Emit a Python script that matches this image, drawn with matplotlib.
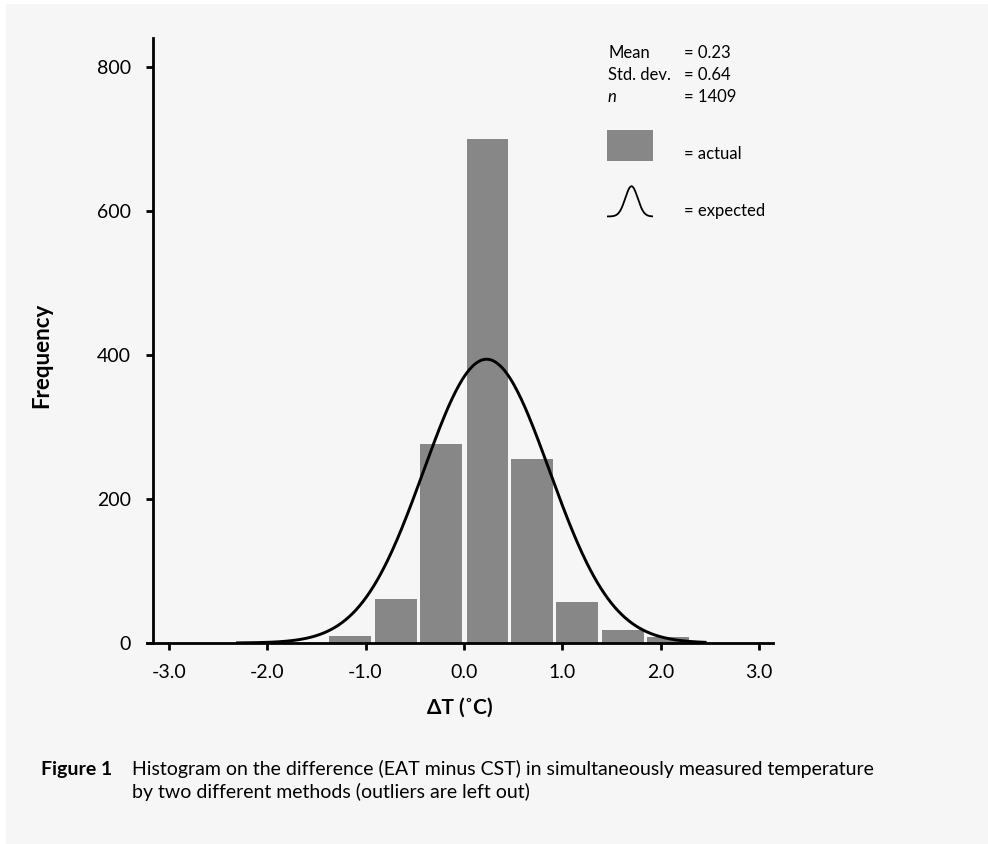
import numpy as np
import matplotlib
matplotlib.use("Agg")
import matplotlib.pyplot as plt
from matplotlib.patches import Rectangle

plt.rcParams['font.family'] = ['Lato', 'DejaVu Sans']

# histogram data
bin_centers = [-1.16, -0.69, -0.23, 0.24, 0.69, 1.15, 1.62, 2.07]
counts = [10, 61, 276, 700, 255, 57, 18, 9]
bar_width = 0.425

# stated statistics
mean_t = 0.23
sd_t = 0.64
n_obs = 1409
peak_expected = 394   # height of the expected curve at its top

xticks = [-3.0, -2.0, -1.0, 0.0, 1.0, 2.0, 3.0]
yticks = [0, 200, 400, 600, 800]

W, H = 988, 844
fig = plt.figure(figsize=(W / 100, H / 100), dpi=100, facecolor='white')
fig.patches.append(Rectangle((6 / W, 0), 1, 1 - 4 / H, transform=fig.transFigure,
                             facecolor='#f6f6f6', edgecolor='none', zorder=-10))

ax = fig.add_axes([147 / W, 1 - 643 / H, (773 - 147) / W, (643 - 38) / H])
ax.set_facecolor('none')

ax.bar(bin_centers, counts, width=bar_width, color='#878787', edgecolor='none', zorder=1)

xc = np.linspace(-2.3, 2.45, 400)
yc = peak_expected * np.exp(-0.5 * ((xc - mean_t) / sd_t) ** 2)
ax.plot(xc, yc, color='black', lw=2.1, zorder=2)

ax.set_xlim(-3.22, 3.14)
ax.set_ylim(0, 840)
ax.spines['top'].set_visible(False)
ax.spines['right'].set_visible(False)
ax.spines['left'].set_position(('data', -3.155))
for s in ('left', 'bottom'):
    ax.spines[s].set_linewidth(2)
ax.set_xticks(xticks)
ax.set_xticklabels(['%.1f' % t for t in xticks])
ax.set_yticks(yticks)
ax.tick_params(axis='both', length=5, width=2, labelsize=14, direction='out')
ax.tick_params(axis='y', pad=11)
ax.tick_params(axis='x', pad=10)

ax.set_ylabel('Frequency', fontsize=16, fontweight='bold', labelpad=0)
ax.yaxis.set_label_coords((52 - 147) / (773 - 147), (643 - 355) / (643 - 38))
ax.set_xlabel('ΔT (˚C)', fontsize=15, fontweight='bold')
ax.xaxis.set_label_coords(0.5, -(698 - 643) / (643 - 38))

# legend block
def fx(px):
    return px / W

def fy(py):
    return 1 - py / H

stats = [('Mean', '= %.2f' % mean_t, False),
         ('Std. dev.', '= %.2f' % sd_t, False),
         ('n', '= %d' % n_obs, True)]
for i, (lab, val, it) in enumerate(stats):
    yy = fy(53 + 22 * i)
    fig.text(fx(608), yy, lab, fontsize=12, va='center', ha='left',
             style='italic' if it else 'normal')
    fig.text(fx(684), yy, val, fontsize=12, va='center', ha='left')

fig.patches.append(Rectangle((fx(607), fy(161)), (653 - 607) / W, (161 - 130) / H,
                             transform=fig.transFigure, facecolor='#878787',
                             edgecolor='none'))
fig.text(fx(684), fy(154), '= actual', fontsize=12, va='center', ha='left')

icon = fig.add_axes([fx(607), fy(218), 46 / W, 33 / H])
icon.plot(xc, yc, color='black', lw=1.3)
icon.set_xlim(-2.3, 2.45)
icon.set_ylim(-20, 410)
icon.axis('off')
fig.text(fx(684), fy(211), '= expected', fontsize=12, va='center', ha='left')

# caption
fig.text(fx(41), fy(775), 'Figure 1', fontsize=14, fontweight='bold', va='baseline')
fig.text(fx(132), fy(775), 'Histogram on the difference (EAT minus CST) in simultaneously measured temperature',
         fontsize=14, va='baseline')
fig.text(fx(132), fy(798), 'by two different methods (outliers are left out)',
         fontsize=14, va='baseline')

fig.savefig('out.png', dpi=100)
